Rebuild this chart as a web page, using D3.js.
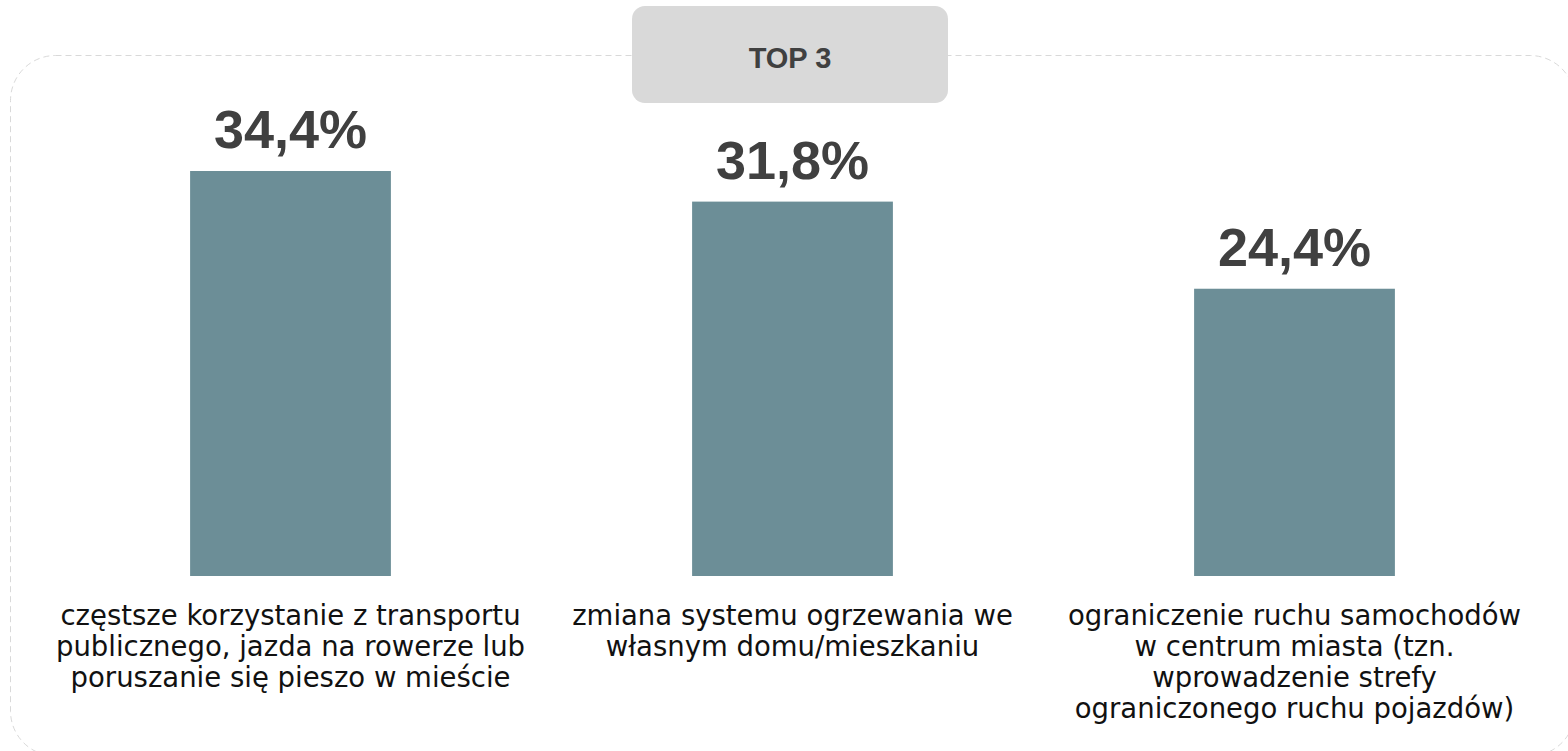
<!DOCTYPE html>
<html lang="pl">
<head>
<meta charset="utf-8">
<script src="https://cdn.jsdelivr.net/npm/d3@7"></script>
<style>
  html, body { margin: 0; padding: 0; background: #ffffff; }
  svg { display: block; }
</style>
</head>
<body>
<svg id="chart" width="1568" height="751"></svg>
<script>
// Survey answers: top 3 actions, share of respondents (%)
const categories = [
  ["częstsze korzystanie z transportu", "publicznego, jazda na rowerze lub", "poruszanie się pieszo w mieście"],
  ["zmiana systemu ogrzewania we", "własnym domu/mieszkaniu"],
  ["ograniczenie ruchu samochodów", "w centrum miasta (tzn.", "wprowadzenie strefy", "ograniczonego ruchu pojazdów)"]
];
const values = [34.4, 31.8, 24.4];
const valueLabels = ["34,4%", "31,8%", "24,4%"];
const headerText = "TOP 3";

const width = 1568, height = 751;
const svg = d3.select("#chart");

const ids = categories.map((_, i) => i);

const x = d3.scaleBand()
  .domain(ids)
  .range([39.5, 1545.5])
  .paddingInner(0.6)
  .paddingOuter(0.3);

const baseY = 576;
const y = d3.scaleLinear()
  .domain([0, 34.4])
  .range([baseY, 171]);

// Dashed rounded frame around the chart
const frame = { x0: 10.5, y0: 55.5, x1: 1575, y1: 756, r: 45 };
svg.append("rect")
  .attr("x", frame.x0)
  .attr("y", frame.y0)
  .attr("width", frame.x1 - frame.x0)
  .attr("height", frame.y1 - frame.y0)
  .attr("rx", frame.r)
  .attr("ry", frame.r)
  .attr("fill", "none")
  .attr("stroke", "#d9d9d9")
  .attr("stroke-width", 1)
  .attr("stroke-dasharray", "6,4");

// Header tab
const tab = svg.append("g").attr("transform", "translate(790,0)");
tab.append("rect")
  .attr("x", -158)
  .attr("y", 6)
  .attr("width", 316)
  .attr("height", 97)
  .attr("rx", 13)
  .attr("fill", "#d9d9d9");
tab.append("text")
  .attr("x", 0)
  .attr("y", 68)
  .attr("text-anchor", "middle")
  .attr("font-family", "'Liberation Sans', Arial, sans-serif")
  .attr("font-weight", "bold")
  .attr("font-size", 29)
  .attr("fill", "#404040")
  .text(headerText);

// Bars
svg.append("g")
  .selectAll("rect")
  .data(values)
  .join("rect")
  .attr("x", (d, i) => x(i))
  .attr("y", d => y(d))
  .attr("width", x.bandwidth())
  .attr("height", d => baseY - y(d))
  .attr("fill", "#6c8e97");

// Value labels
svg.append("g")
  .selectAll("text")
  .data(values)
  .join("text")
  .attr("x", (d, i) => x(i) + x.bandwidth() / 2)
  .attr("y", d => y(d) - 23)
  .attr("text-anchor", "middle")
  .attr("font-family", "'Liberation Sans', Arial, sans-serif")
  .attr("font-weight", "bold")
  .attr("font-size", 54)
  .attr("fill", "#404040")
  .text((d, i) => valueLabels[i]);

// Category axis with wrapped labels
const axis = d3.axisBottom(x).tickSize(0).tickFormat(() => "");
const axisG = svg.append("g")
  .attr("transform", `translate(0,${baseY})`)
  .call(axis);
axisG.select(".domain").remove();

const lineH = 31;
axisG.selectAll(".tick text")
  .attr("y", 0)
  .attr("dy", null)
  .attr("font-family", "'DejaVu Sans', 'Open Sans', sans-serif")
  .attr("font-size", 27.5)
  .attr("fill", "#111111")
  .attr("text-anchor", "middle")
  .each(function(i) {
    const t = d3.select(this);
    categories[i].forEach((line, k) => {
      t.append("tspan")
        .attr("x", 0)
        .attr("y", 49 + k * lineH)
        .text(line);
    });
  });
</script>
</body>
</html>
